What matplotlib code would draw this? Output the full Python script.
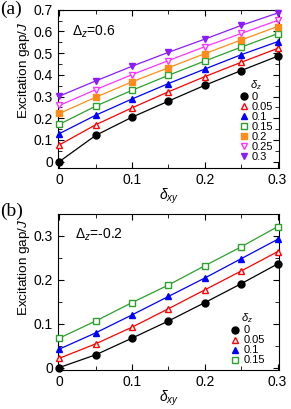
import numpy as np
import matplotlib
matplotlib.use('Agg')
import matplotlib.pyplot as plt
from matplotlib.ticker import MultipleLocator

plt.rcParams['font.family'] = ['Liberation Sans', 'DejaVu Sans']
plt.rcParams['mathtext.fontset'] = 'custom'
plt.rcParams['mathtext.rm'] = 'Liberation Sans'
plt.rcParams['mathtext.it'] = 'Liberation Sans:italic'

# 横轴 delta_xy
delta_xy = [0, 0.05, 0.1, 0.15, 0.2, 0.25, 0.3]

# (a) Delta_z = 0.6
dz_a = ['0', '0.05', '0.1', '0.15', '0.2', '0.25', '0.3']
gap_a = [
    [0.0, 0.121, 0.205, 0.279, 0.352, 0.420, 0.486],
    [0.077, 0.170, 0.248, 0.322, 0.392, 0.458, 0.522],
    [0.129, 0.214, 0.289, 0.360, 0.427, 0.493, 0.553],
    [0.172, 0.256, 0.329, 0.398, 0.464, 0.528, 0.590],
    [0.222, 0.297, 0.368, 0.433, 0.498, 0.561, 0.623],
    [0.259, 0.332, 0.401, 0.466, 0.530, 0.591, 0.651],
    [0.302, 0.372, 0.440, 0.504, 0.565, 0.628, 0.685],
]

# (b) Delta_z = -0.2
dz_b = ['0', '0.05', '0.1', '0.15']
gap_b = [
    [0.0, 0.029, 0.067, 0.106, 0.148, 0.191, 0.236],
    [0.021, 0.054, 0.092, 0.134, 0.177, 0.220, 0.264],
    [0.042, 0.079, 0.120, 0.162, 0.204, 0.248, 0.292],
    [0.067, 0.106, 0.148, 0.188, 0.232, 0.275, 0.321],
]

colors = ['black', '#ff0000', '#0000ff', '#2ca02c', '#ff8c1a', '#ff33ff', '#8c1aff']
markers = ['o', '^', '^', 's', 's', 'v', 'v']
filled = [True, False, True, False, True, False, True]


def fmt(v, p):
    return '0' if abs(v) < 1e-9 else '%g' % v


def draw_panel(ax, gaps, labels, dz_text, text_xy, ylim, label_y, leg_anchor):
    for i, g in enumerate(gaps):
        c = colors[i]
        ax.plot(delta_xy, g, '-', color=c, lw=0.9)
        ax.plot(delta_xy, g, linestyle='none', marker=markers[i], ms=5,
                mfc=c if filled[i] else 'white', mec=c, mew=1.0,
                label=labels[i], clip_on=False, zorder=3)
    ax.set_xlim(-0.002, 0.302)
    ax.set_ylim(*ylim)
    ax.xaxis.set_major_locator(MultipleLocator(0.1))
    ax.xaxis.set_minor_locator(MultipleLocator(0.05))
    ax.yaxis.set_major_locator(MultipleLocator(0.1))
    ax.yaxis.set_minor_locator(MultipleLocator(0.05))
    ax.tick_params(which='both', direction='in', top=True, right=True, labelsize=10)
    ax.tick_params(which='major', length=4)
    ax.tick_params(which='minor', length=3)
    ax.xaxis.set_major_formatter(plt.FuncFormatter(fmt))
    ax.yaxis.set_major_formatter(plt.FuncFormatter(fmt))
    ax.set_xlabel(r'$\delta_{xy}$', fontsize=10, labelpad=0)
    ax.set_ylabel(r'Excitation gap/$J$', fontsize=9.7)
    ax.yaxis.set_label_coords(-0.115, label_y)
    ax.text(text_xy[0], text_xy[1], dz_text, transform=ax.transAxes, fontsize=10, va='center')
    ax.legend(loc='lower right', bbox_to_anchor=leg_anchor, frameon=False, fontsize=8,
              title=r'$\delta_z$', title_fontsize=8, handletextpad=0.25, labelspacing=0.0,
              borderaxespad=0.0, borderpad=0.0, handlelength=1.0)


fig = plt.figure(figsize=(2.91, 4.09), dpi=100)
ax1 = fig.add_axes([0.199, 0.589, 0.760, 0.387])
ax2 = fig.add_axes([0.199, 0.095, 0.760, 0.382])

draw_panel(ax1, gap_a, dz_a, r'$\Delta_z$=0.6', (0.063, 0.86), (-0.03, 0.7), 0.62, (0.975, 0.04))
draw_panel(ax2, gap_b, dz_b, r'$\Delta_z$=-0.2', (0.077, 0.865), (-0.006, 0.35), 0.66, (0.935, 0.03))

fig.text(0.0, 0.998, '(a)', fontsize=14, family='Liberation Serif', va='top')
fig.text(0.0, 0.505, '(b)', fontsize=14, family='Liberation Serif', va='top')

fig.savefig('out.png', dpi=100)
